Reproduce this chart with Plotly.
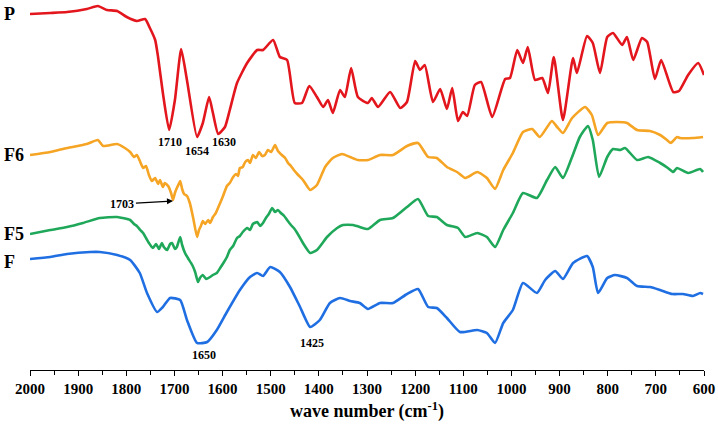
import plotly.graph_objects as go

# ---- data (wavenumber in cm-1, relative transmittance with vertical offsets) ----
p_wn = [2000,1958,1923,1882,1859,1840,1819,1799,1778,1761,1751,1740,1734,1724,1711,1699,1686,1674,1653,1641,
        1628,1620,1609,1595,1585,1570,1549,1528,1516,1495,1481,1466,1450,1435,1420,1404,1391,1381,1371,1356,
        1346,1333,1319,1298,1290,1277,1252,1231,1217,1200,1190,1180,1163,1148,1134,1123,1111,1101,1092,1076,
        1063,1040,1013,1003,988,976,966,951,936,924,912,893,872,864,843,831,816,801,789,770,
        760,747,729,718,702,689,664,652,633,612,600]
p_t = [366,367,368,371,374,370,369,363,359,361,352,340,323,287,250,280,331,300,243,257,
       283,267,246,253,270,297,317,330,330,340,323,320,277,277,294,283,273,280,267,290,
       283,312,283,277,282,273,288,272,278,319,310,315,278,291,271,292,259,268,264,295,
       298,263,301,302,330,317,333,300,302,287,323,260,322,307,344,337,307,343,347,335,
       343,320,342,338,301,320,288,289,305,317,305]

f6_wn = [2000,1958,1923,1882,1859,1848,1819,1803,
         1792,1784,1778,1771,1765,1759,1753,1747,1740,1734,1730,1724,1720,1713,1707,1703,1699,1695,1691,1688,
         1684,1680,1674,1668,1661,1653,1649,1645,1641,1636,1630,1626,1620,1614,1605,1599,1591,1585,1578,1572,
         1568,1564,1558,1553,1547,1543,1537,1531,1524,1518,1512,1506,1499,1491,1485,1477,1470,1464,1458,1452,
         1443,1433,1418,
         1404,1387,1371,1352,1335,1319,1298,1273,1246,1217,1194,1173,1155,1134,1113,1096,1071,1051,1034,
         1017,997,976,957,941,916,905,893,874,847,833,820,801,781,760,739,712,691,677,669,
         656,650,623,602]
f6_t = [225,228,232,236,240,234,236,232,
        228,223,225,218,212,214,205,199,202,196,200,193,197,194,187,180,187,192,196,199,
        191,186,184,177,162,143,150,154,159,156,160,157,163,167,177,184,194,197,203,206,
        204,212,213,218,220,217,225,222,228,224,225,230,228,235,229,225,222,217,214,210,
        205,200,190,
        195,213,222,226,223,220,220,225,225,234,237,223,222,213,208,202,208,202,191,
        210,227,248,251,243,259,253,247,262,273,265,245,257,258,257,250,249,245,240,237,
        243,242,242,243]

f5_wn = [2000,1958,1923,1890,1855,1819,
         1792,1784,1778,1771,1765,1759,1753,1745,1738,1732,1726,1722,1715,1709,1705,1699,1695,1688,1684,1678,
         1672,1663,1657,1651,1647,1641,1634,1626,1620,1612,1605,1597,1591,1585,1578,1570,1564,1558,1549,1543,
         1537,1528,1522,1516,1510,1504,1497,1491,1485,1479,1472,1466,1458,1452,1445,1433,1418,
         1404,1383,1362,1350,1329,1315,1298,1273,
         1246,1217,1194,1173,1155,1134,1111,1096,1071,1051,1034,1017,997,976,947,926,909,893,874,858,
         841,831,818,801,789,774,764,739,716,691,675,664,656,633,608,602]
f5_t = [146,150,153,157,162,163,
        160,156,154,150,147,142,137,132,136,131,137,133,130,136,137,131,133,143,135,127,
        122,115,108,98,102,105,101,103,105,107,112,118,123,130,134,142,144,148,152,150,
        156,158,154,157,162,166,172,168,170,167,164,160,155,152,147,137,127,
        130,143,152,155,155,153,151,160,
        162,173,181,164,163,155,152,143,147,143,133,150,167,187,182,200,213,202,223,243,
        254,240,203,223,231,230,232,220,223,217,212,208,212,207,211,208]

f_wn = [2000,1958,1923,1875,1855,1819,1792,1772,1757,1736,1724,1709,1688,1674,1653,1632,1612,1591,1564,1543,
        1528,1516,1501,1481,1460,1439,1418,1398,1377,1356,1335,1315,1298,1273,1246,1217,1194,1173,1155,1134,1107,
        1071,1051,1034,1017,997,976,947,930,909,893,872,843,831,820,801,785,760,739,712,691,
        666,644,623,608,602]
f_t = [121,123,126,128,128,125,120,107,87,68,73,82,80,60,37,38,50,68,90,103,
       107,104,113,108,93,73,53,60,77,82,79,77,71,77,77,86,91,73,72,62,48,
       50,47,37,57,70,97,87,100,109,101,117,124,113,87,102,105,102,94,93,90,
       86,86,84,87,86]

series_names = ["P", "F6", "F5", "F"]
series_colors = ["#e3161d", "#f5a423", "#1fa85a", "#1f6fe3"]

peak_labels = ["1710", "1654", "1630", "1650", "1425"]
peak_wn = [1710, 1653, 1597, 1639, 1414]
peak_t = [238, 229, 238, 25, 37]

fig = go.Figure()
for wn, t, name, col in zip([p_wn, f6_wn, f5_wn, f_wn], [p_t, f6_t, f5_t, f_t], series_names, series_colors):
    fig.add_trace(go.Scatter(x=wn, y=t, mode="lines", name=name,
                             line=dict(color=col, width=2.6, shape="spline", smoothing=0.5),
                             showlegend=False, hoverinfo="skip"))

serif = "Liberation Serif, Times New Roman, serif"

# series labels on the left
label_t = [366, 225, 146, 118]
for name, t in zip(series_names, label_t):
    fig.add_annotation(x=-0.041, y=t, xref="paper", yref="y", text="<b>%s</b>" % name,
                       showarrow=False, xanchor="left", yanchor="middle",
                       font=dict(family=serif, size=18, color="black"))

for lab, wn, t in zip(peak_labels, peak_wn, peak_t):
    fig.add_annotation(x=wn, y=t, xref="x", yref="y", text="<b>%s</b>" % lab,
                       showarrow=False, xanchor="center", yanchor="middle",
                       font=dict(family=serif, size=12, color="black"))

# 1703 label with arrow pointing at the shoulder
fig.add_annotation(x=1703, y=179, ax=1808, ay=176, xref="x", yref="y", axref="x", ayref="y",
                   text="<b>1703</b>", showarrow=True, arrowhead=2, arrowsize=1, arrowwidth=1.2,
                   arrowcolor="black", standoff=0,
                   font=dict(family=serif, size=12, color="black"))

fig.update_layout(
    width=718, height=427,
    margin=dict(l=30, r=14, t=0, b=57),
    paper_bgcolor="white", plot_bgcolor="white",
    xaxis=dict(range=[2000, 600], dtick=100, tick0=600, showgrid=False, zeroline=False,
               showline=True, linecolor="black", linewidth=1.2,
               ticks="outside", ticklen=5, tickwidth=1, tickcolor="black",
               minor=dict(dtick=50, ticks="outside", ticklen=4, tickcolor="black"),
               tickfont=dict(family=serif, size=15, color="black"),
               tickprefix="<b>", ticksuffix="</b>",
               title=dict(text="<b>wave number (cm<sup>-1</sup>)</b>", standoff=8,
                          font=dict(family=serif, size=18, color="black"))),
    yaxis=dict(range=[10, 380], visible=False, showgrid=False, zeroline=False),
)

fig.write_html("out.html", config={"displayModeBar": False},
               post_script="document.body.style.margin='0';document.body.style.overflow='hidden';")
